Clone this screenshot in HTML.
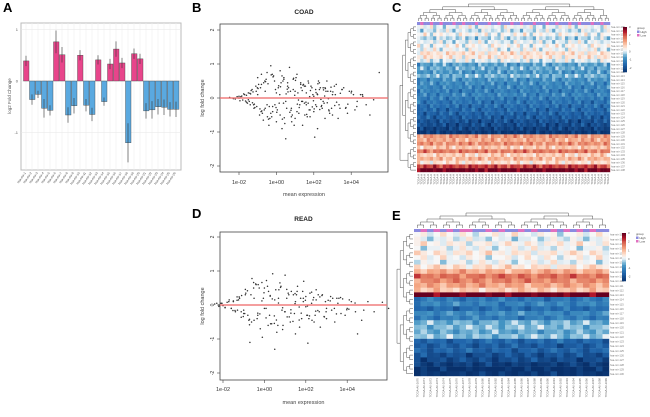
<!DOCTYPE html>
<html><head><meta charset="utf-8"><style>
body{margin:0;background:#fff;font-family:"Liberation Sans",sans-serif}
svg{display:block}
</style></head><body>
<svg id="fig" width="650" height="417" xmlns="http://www.w3.org/2000/svg">
<text x="3" y="12" font-size="13" font-weight="bold">A</text>
<text x="192" y="12" font-size="13" font-weight="bold">B</text>
<text x="392" y="12" font-size="13" font-weight="bold">C</text>
<text x="192" y="218" font-size="13" font-weight="bold">D</text>
<text x="392" y="220" font-size="13" font-weight="bold">E</text>
<g id="pa"></g><g id="pb"></g><g id="pd"></g><g id="pc"></g><g id="pe"></g>
</svg>
<script>
// ---- Panel A data ----
const aGenes=["hsa-mir-1","hsa-mir-2","hsa-mir-3","hsa-mir-4","hsa-mir-5","hsa-mir-6","hsa-mir-7","hsa-mir-8","hsa-mir-9","hsa-mir-10","hsa-mir-11","hsa-mir-12","hsa-mir-13","hsa-mir-14","hsa-mir-15","hsa-mir-16","hsa-mir-17","hsa-mir-18","hsa-mir-19","hsa-mir-20","hsa-mir-21","hsa-mir-22","hsa-mir-23","hsa-mir-24","hsa-mir-25","hsa-mir-26"];
const aValues=[0.39,-0.36,-0.26,-0.53,-0.57,0.76,0.51,-0.66,-0.48,0.5,-0.47,-0.65,0.41,-0.4,0.33,0.62,0.35,-1.2,0.53,0.43,-0.58,-0.56,-0.5,-0.51,-0.55,-0.55];
const aErrors=[0.1,0.1,0.07,0.18,0.1,0.22,0.15,0.15,0.15,0.1,0.12,0.13,0.09,0.08,0.1,0.15,0.1,0.38,0.1,0.1,0.15,0.17,0.15,0.15,0.14,0.15];
const aTicks=[-1,0,1];
// ---- Panel B (COAD) data: log10 mean expression, log fold change ----
const bMean=[-2.5,-2.2,-2.0,-1.9,-1.8,-1.7,-1.6,-1.5,-1.4,-1.3,-1.2,-1.1,-1.0,-0.9,-0.8,-0.7,-0.6,-0.5,-0.4,-0.3,-0.2,-0.1,0,0.1,0.2,0.3,0.4,0.5,0.6,0.7,0.8,0.9,1.0,1.1,1.2,1.3,1.4,1.5,1.6,1.7,1.8,1.9,2.0,2.1,2.2,2.3,2.4,2.5,2.6,2.7,2.8,2.9,3.0,3.2,3.4,3.6,3.8,4.0,4.3,4.6,5.0,5.5,
-2.3,-2.1,-1.95,-1.75,-1.55,-1.35,-1.15,-0.95,-0.75,-0.55,-0.35,-0.15,0.05,0.25,0.45,0.65,0.85,1.05,1.25,1.45,1.65,1.85,2.05,2.25,2.45,2.65,2.85,3.1,3.3,3.5,3.7,3.9,4.2,4.5,4.8,5.2,
-1.6,-1.45,-1.25,-1.05,-0.85,-0.65,-0.45,-0.25,-0.05,0.15,0.35,0.55,0.75,0.95,1.15,1.35,1.55,1.75,1.95,2.15,2.35,2.55,2.75,2.95,3.15,3.35,
-1.5,-1.0,-0.5,0,0.5,1.0,1.5,2.0,2.5,3.0,-0.3,0.3,0.8,1.3,1.8,2.3,-0.8,-0.2,0.6,1.1,1.6,2.1,2.6,0.2,0.9,1.4,-0.6,0.4,1.7,2.2,
-1.38,-1.18,-0.98,-0.78,-0.58,-0.38,-0.18,0.02,0.22,0.42,0.62,0.82,1.02,1.22,1.42,1.62,1.82,2.02,2.22,2.42,2.62,2.82,3.02,3.22,3.52,3.82,4.12,
-1.28,-1.08,-0.88,-0.68,-0.48,-0.28,-0.08,0.12,0.32,0.52,0.72,0.92,1.12,1.32,1.52,1.72,1.92,2.12,2.32,2.52,2.72,2.92,3.12,3.42,3.72,4.02,4.32,4.62,
-2.0,-1.85,-1.65,-1.42,-1.22,-1.02,-0.82,-0.62,-0.42,-0.22,-0.02,0.18,0.38,0.58,0.78,0.98,1.18,1.38,1.58,1.78,1.98,2.18,2.38,2.58,2.78];
const bLfc=[0.02,-0.03,0.05,0.04,-0.06,0.1,-0.12,0.15,-0.2,0.25,-0.3,0.35,0.6,-0.5,0.7,-0.65,0.2,0.75,-0.8,0.95,-0.4,0.5,-0.7,0.3,0.8,-0.9,0.6,-1.2,0.45,0.9,-0.3,0.55,-0.6,0.7,-0.45,0.4,-0.8,0.35,-0.2,0.5,-0.55,0.3,-0.4,0.25,-0.9,0.45,-0.25,0.3,-0.6,0.5,-0.35,0.2,-0.5,0.4,-0.3,0.3,-0.45,0.15,-0.25,0.1,-0.5,0.75,
-0.02,0.04,-0.08,0.12,-0.15,0.22,-0.28,0.4,-0.45,0.55,-0.6,0.65,-0.35,0.45,-0.75,0.3,-0.5,0.6,-0.2,0.4,-0.55,0.35,-1.15,0.5,-0.3,0.2,-0.45,0.35,-0.6,0.25,-0.3,0.2,-0.35,0.1,-0.2,-0.05,
0.08,-0.1,0.18,-0.25,0.3,-0.35,0.42,-0.55,0.25,-0.15,0.5,-0.3,0.2,-0.8,0.15,-0.1,0.35,-0.35,0.1,-0.25,0.3,-0.15,0.2,-0.3,0.1,-0.2,
-0.05,0.1,-0.2,0.15,-0.1,0.2,-0.15,0.05,-0.1,0.1,-0.45,0.65,-0.55,0.45,-0.35,0.25,0.4,-0.25,0.35,-0.4,0.15,-0.2,0.3,-0.5,0.25,-0.1,-0.3,0.55,-0.15,0.1,
0.12,-0.18,0.28,-0.38,0.48,-0.25,0.62,-0.42,0.33,-0.58,0.18,-0.7,0.52,-0.28,0.38,-0.48,0.22,-0.32,0.42,-0.22,0.28,-0.38,0.18,-0.12,0.25,-0.18,0.1,
-0.14,0.2,-0.32,0.45,-0.55,0.68,-0.2,0.36,-0.62,0.12,-0.42,0.58,-0.18,0.3,-0.5,0.44,-0.26,0.16,-0.34,0.24,-0.14,0.32,-0.22,0.14,-0.28,0.2,-0.1,0.05,
0.0,0.06,-0.09,0.14,-0.2,0.3,-0.4,0.5,-0.62,0.7,-0.28,0.1,-0.15,0.26,-0.36,0.08,-0.06,0.22,-0.12,0.04,-0.08,0.12,-0.04,0.06,-0.02];
// ---- Panel D (READ) data ----
const dMean=[-2.4,-2.2,-2.1,-2.0,-1.8,-1.6,-1.5,-1.3,-1.2,-1.0,-0.9,-0.8,-0.6,-0.5,-0.3,-0.2,0,0.1,0.3,0.4,0.6,0.7,0.9,1.0,1.2,1.3,1.5,1.6,1.8,1.9,2.1,2.2,2.4,2.5,2.7,2.8,3.0,3.2,3.4,3.6,3.9,4.1,4.4,4.7,5.0,5.3,5.7,6.0,
-2.3,-1.9,-1.7,-1.4,-1.1,-0.7,-0.4,-0.1,0.2,0.5,0.8,1.1,1.4,1.7,2.0,2.3,2.6,2.9,3.3,3.7,4.2,4.8,
-1.6,-1.25,-0.95,-0.65,-0.35,-0.05,0.25,0.55,0.85,1.15,1.45,1.75,2.05,2.35,2.65,2.95,3.25,3.55,
-1.5,-1.0,-0.5,0,0.5,1.0,1.5,2.0,2.5,3.0,-0.25,0.35,0.75,1.25,1.85,2.45,-0.75,0.15,0.65,1.55,2.15,3.5,4.0,4.5,
-1.42,-1.22,-1.02,-0.82,-0.62,-0.42,-0.22,-0.02,0.18,0.38,0.58,0.78,0.98,1.18,1.38,1.58,1.78,1.98,2.18,2.38,2.58,2.78,2.98,3.18,3.48,3.78,4.08,4.38,
-1.32,-1.12,-0.92,-0.72,-0.52,-0.32,-0.12,0.08,0.28,0.48,0.68,0.88,1.08,1.28,1.48,1.68,1.88,2.08,2.28,2.48,2.68,2.88,3.08,3.38,3.68,3.98,
-2.2,-2.05,-1.9,-1.72,-1.52,-1.32,-1.12,-0.92,-0.72,-0.52,-0.32,-0.12,0.08,0.28,0.48,0.68,0.88,1.08,1.28,1.48,1.68,1.88,2.08,2.28];
const dLfc=[0.03,-0.04,0.05,-0.02,0.08,-0.1,0.12,-0.15,0.2,-0.25,0.35,-0.3,0.78,-0.45,0.6,-0.7,0.5,0.72,-0.55,0.92,-0.8,0.45,-0.6,0.88,-0.35,0.4,-0.85,0.55,-0.4,0.7,-1.12,0.35,-0.5,0.45,-0.65,0.3,-0.4,0.25,-0.5,0.2,-0.3,0.15,-0.2,-0.45,0.1,-0.2,0.08,-0.1,
0.05,-0.08,0.15,-0.2,0.28,-1.1,0.6,-0.95,0.4,-1.3,0.55,-0.35,0.3,-0.65,0.25,-0.45,0.3,-0.35,0.2,-0.25,0.1,-0.15,
-0.1,0.15,-0.25,0.3,-0.4,0.2,-0.3,0.45,-0.15,0.35,-0.25,0.2,-0.3,0.15,-0.2,0.1,-0.15,0.05,
0.1,-0.15,0.2,-0.1,0.15,-0.2,0.1,-0.05,0.15,-0.1,0.5,-0.55,0.65,-0.5,0.4,-0.3,-0.45,0.55,-0.6,0.3,-0.4,0.2,-0.1,-0.85,
-0.16,0.24,-0.34,0.42,-0.5,0.62,-0.26,0.36,-0.6,0.18,-0.44,0.52,-0.2,0.3,-0.48,0.4,-0.24,0.14,-0.32,0.22,-0.16,0.28,-0.2,0.12,-0.26,0.18,-0.12,0.06,
0.14,-0.2,0.3,-0.42,0.5,-0.3,0.66,-0.38,0.26,-0.54,0.2,-0.72,0.46,-0.24,0.34,-0.44,0.2,-0.3,0.38,-0.18,0.24,-0.34,0.14,-0.1,0.22,-0.14,
0.0,0.05,-0.07,0.1,-0.16,0.24,-0.36,0.46,-0.58,0.66,-0.24,0.12,-0.1,0.28,-0.32,0.06,-0.08,0.2,-0.14,0.04,-0.06,0.1,-0.03,0.05];
const maTicksY=[-2,-1,0,1,2];
const maTicksX=[-2,0,2,4];
const maTickLabels=["1e-02","1e+00","1e+02","1e+04"];
// ---- Heatmap data: row-wise z-scores ----
const cRows=[0.2,0.0,0.3,-0.1,0.1,0.3,0.2,0.6,0.5,0.1,-0.6,-0.5,-0.7,-0.4,-0.8,-0.9,-1.0,-1.1,-1.0,-1.2,-1.3,-1.4,-1.5,-1.6,-1.7,-1.9,-2.0,-2.2,-2.4,1.4,1.2,1.5,0.9,1.7,0.8,1.1,0.6,2.2,3.0];
const cGroups=["High","Low","High","High","Low","High","High","Low","High","High","High","Low","High","High","Low","High","High","High","Low","High","High","High","Low","High","High","Low","High","High","High","Low","High","High","Low","High","High","High","Low","High","High","High","Low","High","High","Low","High","High","High","Low","High","High","Low","High","High","High","Low","High","High","Low","High","High"];
const cNoise=[0,0.3,-0.2,0,0.5,-0.4,0,0.1,-0.6,0.2,0,0,-0.3,0.4,0,-0.1,0.6,0,-0.5,0.2,0,0.3,0,-0.2,0.1,0,-0.4,0.5,0,0.2,-0.1];
const eRows=[0.3,0.1,0.4,0.2,0.5,0.3,0.2,0.6,1.2,1.8,1.6,1.3,0.9,3.0,-1.2,-1.0,-1.4,-0.9,-1.1,-0.4,-0.3,-0.5,-0.3,-1.5,-1.7,-1.6,-1.9,-2.0,-2.3,-2.5,-2.4];
const eGroups=["High","Low","High","Low","High","Low","High","Low","Low","High","High","Low","High","Low","High","High","Low","High","Low","High","High","Low","High","Low","High","Low","High","Low","High","High"];
const eNoise=[0,0.2,-0.3,0,0.4,0,-0.2,0.3,0,-0.4,0.1,0,0.3,-0.2,0,0.5,-0.1,0,-0.3,0.2,0,0.1,-0.5,0];
const legendTicks=[-2,-1,0,1,2,3];

const NS="http://www.w3.org/2000/svg";
function mk(parent,tag,attrs,text){const e=document.createElementNS(NS,tag);for(const k in attrs)e.setAttribute(k,attrs[k]);if(text!==undefined)e.textContent=text;parent.appendChild(e);return e;}

// ===== Panel A =====
(function(){
 const g=document.getElementById('pa');
 const x0=21,x1=181,y0=23,y1=170;
 const yS=v=>81-v*51.5;
 const bw=(x1-x0-4)/aValues.length;
 const xS=i=>x0+2+i*bw;
 const frame=mk(g,'rect',{x:x0,y:y0,width:x1-x0,height:y1-y0,fill:'#fff',stroke:'#bbb','stroke-width':1});
 
 
 aValues.forEach((v,i)=>{mk(g,'line',{x1:xS(i)+bw/2,x2:xS(i)+bw/2,y1:y0,y2:y1,stroke:'#eee','stroke-width':0.6});});
 aTicks.forEach(t=>{mk(g,'line',{x1:x0,x2:x1,y1:yS(t),y2:yS(t),stroke:'#e6e6e6','stroke-width':0.6});
  const tl=mk(g,'text',{x:x0-3,y:yS(t)+1.5,'font-size':4,'text-anchor':'end',fill:'#555'},t);
  
  });
 aValues.forEach((v,i)=>{
  const r=mk(g,'rect',{x:xS(i)+0.5,y:Math.min(yS(v),yS(0)),width:bw-0.5,height:Math.abs(yS(v)-yS(0)),fill:v>0?'#e8458b':'#5aa9e0',stroke:'#444','stroke-width':0.4});
  
  
  const cx=xS(i)+bw/2;
  const eb=mk(g,'line',{x1:cx,x2:cx,y1:yS(v+aErrors[i]),y2:yS(v-aErrors[i]),stroke:'#333','stroke-width':0.6});
  
  
  const lb=mk(g,'text',{x:cx,y:y1+3,'font-size':3,fill:'#444','text-anchor':'end',transform:`rotate(-55 ${cx} ${y1+3})`},aGenes[i]);
  
  
 });
 const yl=mk(g,'text',{x:11,y:96,'font-size':4.5,fill:'#555','text-anchor':'middle',transform:'rotate(-90 11 96)'},'log2 Fold Change');
 
 
})();

// ===== MA plots =====
function maPlot(id,title,mean,lfc,box,xS,yS,titleY,tickY,labY,prefix){
 const g=document.getElementById(id);
 const t=mk(g,'text',{x:(box.x0+box.x1)/2,y:titleY,'font-size':6.5,'font-weight':'bold','text-anchor':'middle',fill:'#222'},title);
 
 
 const fr=mk(g,'rect',{x:box.x0,y:box.y0,width:box.x1-box.x0,height:box.y1-box.y0,fill:'none',stroke:'#444','stroke-width':0.8});
 
 
 maTicksY.forEach(v=>{mk(g,'line',{x1:box.x0-3,x2:box.x0,y1:yS(v),y2:yS(v),stroke:'#444','stroke-width':0.6});
  const l=mk(g,'text',{x:box.x0-6,y:yS(v),'font-size':5,fill:'#333','text-anchor':'middle',transform:`rotate(-90 ${box.x0-6} ${yS(v)})`},v);
  
  });
 maTicksX.forEach((v,i)=>{mk(g,'line',{x1:xS(v),x2:xS(v),y1:box.y1,y2:box.y1+3,stroke:'#444','stroke-width':0.6});
  const l=mk(g,'text',{x:xS(v),y:tickY,'font-size':5.5,fill:'#333','text-anchor':'middle'},maTickLabels[i]);
  
  });
 const xl=mk(g,'text',{x:(box.x0+box.x1)/2,y:labY,'font-size':5.5,fill:'#444','text-anchor':'middle'},'mean expression');
 
 
 const ly=(box.y0+box.y1)/2;
 const yl=mk(g,'text',{x:box.x0-16,y:ly,'font-size':5.5,fill:'#444','text-anchor':'middle',transform:`rotate(-90 ${box.x0-16} ${ly})`},'log fold change');
 
 
 const n=Math.min(mean.length,lfc.length);
 for(let i=0;i<n;i++){
  const p=mk(g,'circle',{cx:xS(mean[i]),cy:yS(lfc[i]),r:0.75,fill:'#333'});
  
  
 }
 const rl=mk(g,'line',{x1:box.x0,x2:box.x1,y1:yS(0),y2:yS(0),stroke:'#f07070','stroke-width':1.5,opacity:0.9});
 
 
}
maPlot('pb','COAD',bMean,bLfc,{x0:220,x1:388,y0:24,y1:172},v=>239+(v+2)*18.7,v=>98-v*34,14,184,196,'coad-ma');
maPlot('pd','READ',dMean,dLfc,{x0:220,x1:387,y0:232,y1:380},v=>223+(v+2)*20.7,v=>305-v*34,221,391,404,'read-ma');

// ===== Heatmaps =====
const stops=[[-2.5,[8,48,107]],[-1.5,[33,102,172]],[-0.7,[67,147,195]],[-0.2,[146,197,222]],[0,[209,229,240]],[0.3,[247,247,247]],[0.7,[253,219,199]],[1.3,[244,165,130]],[2,[214,96,77]],[2.5,[178,24,43]],[3,[103,0,31]]];
function col(v){if(v<=stops[0][0])return `rgb(${stops[0][1]})`;for(let i=1;i<stops.length;i++){if(v<=stops[i][0]){const a=stops[i-1],b=stops[i],t=(v-a[0])/(b[0]-a[0]);return `rgb(${a[1].map((c,k)=>Math.round(c+(b[1][k]-c)*t))})`;}}return `rgb(${stops[stops.length-1][1]})`;}
function dendroTop(g,x0,w,n,yTop,yBot){
 let nodes=[];for(let i=0;i<n;i++)nodes.push({x:x0+(i+0.5)*w/n,y:yBot});
 let lvl=0;const L=Math.ceil(Math.log2(n));
 while(nodes.length>1){lvl++;const nx=[];const h=yBot-(yBot-yTop)*lvl/L;
  for(let i=0;i<nodes.length;i+=2){if(i+1<nodes.length){const a=nodes[i],b=nodes[i+1];mk(g,'path',{d:`M${a.x} ${a.y}V${h}H${b.x}V${b.y}`,fill:'none',stroke:'#555','stroke-width':0.5});nx.push({x:(a.x+b.x)/2,y:h});}else nx.push(nodes[i]);}
  nodes=nx;}
}
function dendroLeft(g,y0,h,n,xL,xR){
 let nodes=[];for(let i=0;i<n;i++)nodes.push({y:y0+(i+0.5)*h/n,x:xR});
 let lvl=0;const L=Math.ceil(Math.log2(n));
 while(nodes.length>1){lvl++;const nx=[];const xx=xR-(xR-xL)*lvl/L;
  for(let i=0;i<nodes.length;i+=2){if(i+1<nodes.length){const a=nodes[i],b=nodes[i+1];mk(g,'path',{d:`M${a.x} ${a.y}H${xx}V${b.y}H${b.x}`,fill:'none',stroke:'#555','stroke-width':0.5});nx.push({y:(a.y+b.y)/2,x:xx});}else nx.push(nodes[i]);}
  nodes=nx;}
}
function heatmap(id,rows,groups,noise,b,prefix,labelLen){
 const g=document.getElementById(id);
 const nc=groups.length,nr=rows.length;
 const cw=(b.x1-b.x0)/nc,rh=(b.y1-b.y0)/nr;
 const dt=mk(g,'g',{});
 dendroTop(dt,b.x0,b.x1-b.x0,nc,b.dTop,b.y0-4);
 const dl=mk(g,'g',{});
 dendroLeft(dl,b.y0,b.y1-b.y0,nr,b.dLeft,b.x0-1);
 groups.forEach((gr,j)=>{const a=mk(g,'rect',{x:b.x0+j*cw,y:b.y0-3,width:cw+0.2,height:3,fill:gr==='High'?'#8b8be0':'#e070c0'});
  
  });
 rows.forEach((v,i)=>{groups.forEach((gr,j)=>{
  const c=mk(g,'rect',{x:b.x0+j*cw,y:b.y0+i*rh,width:cw+0.2,height:rh+0.2,fill:col(v+noise[(i*7+j)%noise.length])});
  
  });
  const rl=mk(g,'text',{x:b.x1+1,y:b.y0+(i+0.8)*rh,'font-size':2.6,fill:'#777'},'hsa-mir-'+(100+i));
  
  });
 groups.forEach((gr,j)=>{const cx=b.x0+(j+0.7)*cw;
  const cl=mk(g,'text',{x:cx,y:b.y1+2,'font-size':2.8,fill:'#666','text-anchor':'end',transform:`rotate(-90 ${cx} ${b.y1+2})`},('TCGA-A6-'+(2670+j)).slice(0,labelLen));
  
  });
 const lg=mk(g,'g',{});
 const steps=30;for(let k=0;k<steps;k++){const v=3-5.5*k/steps;mk(lg,'rect',{x:b.lx,y:b.ly+k*b.lh/steps,width:4,height:b.lh/steps+0.3,fill:col(v)});}
 legendTicks.forEach(t=>{mk(lg,'text',{x:b.lx+6,y:b.ly+(3-t)/5.5*b.lh+1,'font-size':2.8,fill:'#555'},t);});
 const gl=mk(g,'g',{});
 mk(gl,'text',{x:b.lx+14,y:b.ly+2,'font-size':3,fill:'#444'},'group');
 mk(gl,'rect',{x:b.lx+14,y:b.ly+3.5,width:2.5,height:2.5,fill:'#8b8be0'});
 mk(gl,'text',{x:b.lx+17.5,y:b.ly+6,'font-size':3,fill:'#444'},'High');
 mk(gl,'rect',{x:b.lx+14,y:b.ly+7,width:2.5,height:2.5,fill:'#e070c0'});
 mk(gl,'text',{x:b.lx+17.5,y:b.ly+9.5,'font-size':3,fill:'#444'},'Low');
}
heatmap('pc',cRows,cGroups,cNoise,{x0:417,x1:610,y0:25,y1:172,dTop:4,dLeft:400,lx:623,ly:27,lh:45},'coad-heatmap',6);
heatmap('pe',eRows,eGroups,eNoise,{x0:414,x1:609,y0:232,y1:376,dTop:213,dLeft:397,lx:622,ly:233,lh:48},'read-heatmap',15);
</script>
</body></html>
